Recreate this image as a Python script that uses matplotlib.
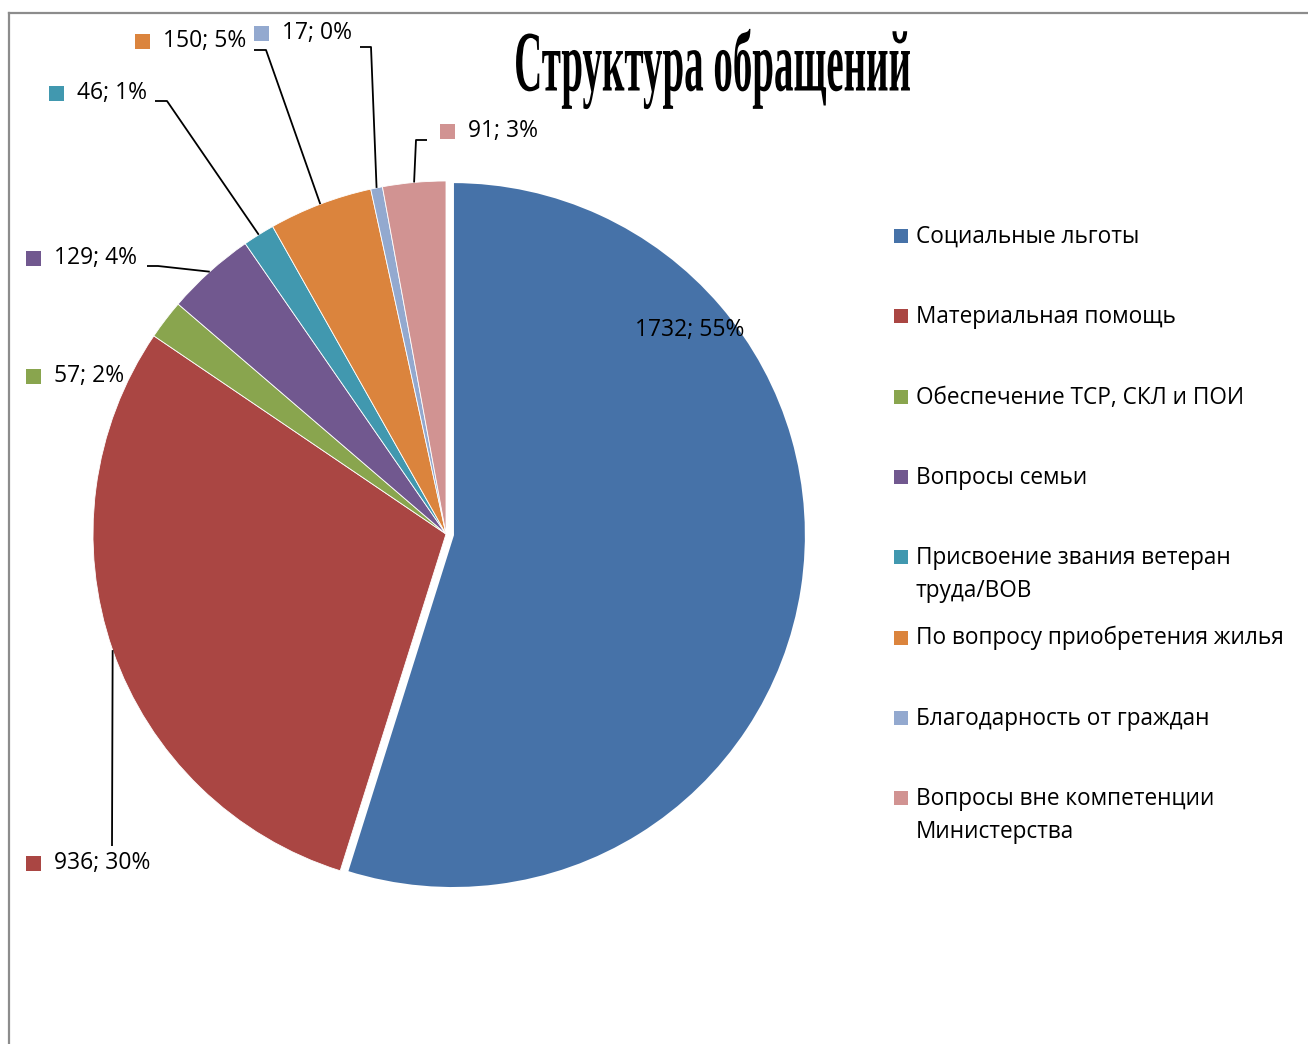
import matplotlib
matplotlib.use("Agg")
import matplotlib.pyplot as plt
from matplotlib.patches import Rectangle
from matplotlib import patheffects
from matplotlib.transforms import Affine2D
from matplotlib.lines import Line2D
import numpy as np

# ---------------- data ----------------
categories = [
    "Социальные льготы",
    "Материальная помощь",
    "Обеспечение ТСР, СКЛ и ПОИ",
    "Вопросы семьи",
    "Присвоение звания ветеран\nтруда/ВОВ",
    "По вопросу приобретения жилья",
    "Благодарность от граждан",
    "Вопросы вне компетенции\nМинистерства",
]
values = [1732, 936, 57, 129, 46, 150, 17, 91]
percent_labels = ["55%", "30%", "2%", "4%", "1%", "5%", "0%", "3%"]
colors = ["#4672A8", "#AA4643", "#89A54E", "#71588F",
          "#4198AF", "#DB843D", "#93A9CF", "#D19392"]
title = "Структура обращений"

# ---------------- layout ----------------
W, H = 1308, 1044
FONT = ["Open Sans", "DejaVu Sans"]
LBL_SIZE = 16.5
LEG_SIZE = 16.3

fig = plt.figure(figsize=(W / 100, H / 100), dpi=100)
ax = fig.add_axes([0, 0, 1, 1])


def Y(p):
    return H - p


CX, CY, R = 446, Y(534), 353
explode = [7, 0, 0, 0, 0, 0, 0, 0]
wedges, _ = ax.pie(values, colors=colors, startangle=90, counterclock=False,
                   center=(CX, CY), radius=R, explode=explode,
                   wedgeprops=dict(edgecolor="white", linewidth=0.6))
wedges[0].set_linewidth(1.5)
ax.set_xlim(0, W)
ax.set_ylim(0, H)
ax.set_aspect("equal")
ax.axis("off")

# frame (top and left visible)
fig.add_artist(Line2D([9 / W, 9 / W], [0, 1 - 13 / H], color="#8C8C8C", lw=1.6))
fig.add_artist(Line2D([9 / W, 1], [1 - 13 / H, 1 - 13 / H], color="#8C8C8C", lw=1.6))

# data label placement: (square left x, centre y, leader start points)
label_layout = [
    (None, (690, 330), None),
    (26, 863, [(112, 846)]),
    (26, 376, None),
    (26, 258, [(147, 266), (158, 266)]),
    (49, 93, [(155, 101), (167, 101)]),
    (135, 41, [(254, 50), (266, 50)]),
    (254, 33, [(360, 47), (371, 47)]),
    (440, 131, [(427, 140), (416, 140)]),
]

for i, (w, v, p) in enumerate(zip(wedges, values, percent_labels)):
    txt = f"{v}; {p}"
    lay = label_layout[i]
    if lay[0] is None:
        x, y = lay[1]
        ax.text(x, Y(y), txt, ha="center", va="center", fontsize=LBL_SIZE,
                family=FONT, color="black")
        continue
    sx, sy, leader = lay
    ax.add_patch(Rectangle((sx, Y(sy) - 7.5), 15, 15, facecolor=colors[i],
                           edgecolor="none"))
    ax.text(sx + 28, Y(sy), txt, ha="left", va="center", fontsize=LBL_SIZE,
            family=FONT, color="black")
    if leader:
        th = np.deg2rad((w.theta1 + w.theta2) / 2)
        ex = w.center[0] + w.r * np.cos(th)
        ey = w.center[1] + w.r * np.sin(th)
        xs = [pt[0] for pt in leader] + [ex]
        ys = [Y(pt[1]) for pt in leader] + [ey]
        ax.plot(xs, ys, color="black", lw=1.3, solid_capstyle="butt")

# legend (manual, fixed spacing)
LINE_GAP = 32.5
for i, cat in enumerate(categories):
    yc = 236 + i * 80.3
    nl = cat.count("\n")
    ax.add_patch(Rectangle((894, Y(yc) - 7), 14, 14, facecolor=colors[i],
                           edgecolor="none"))
    ax.text(916, Y(yc + 7 + nl * LINE_GAP), cat, ha="left", va="baseline",
            fontsize=LEG_SIZE, family=FONT, color="black", linespacing=1.48)


# title: narrow-width text stretched vertically (condensed look)
class Stretch(patheffects.AbstractPathEffect):
    def __init__(self, sx, sy, target):
        super().__init__()
        self.sx, self.sy, self.target = sx, sy, target

    def draw_path(self, renderer, gc, tpath, affine, rgbFace=None):
        bb = tpath.get_extents(affine)
        cx = (bb.x0 + bb.x1) / 2
        cy = (bb.y0 + bb.y1) / 2
        t = (affine + Affine2D().translate(-cx, -cy)
             .scale(self.sx, self.sy).translate(*self.target))
        renderer.draw_path(gc, tpath, t, rgbFace)


TITLE_W = 397        # px, target ink width
TITLE_CENTER = (713, Y(69))
BASE_SIZE = 62
tt = fig.text(TITLE_CENTER[0] / W, TITLE_CENTER[1] / H, title, ha="center",
              va="center", fontsize=BASE_SIZE,
              family=["Liberation Serif", "DejaVu Serif"],
              fontweight="bold", color="black")
fig.canvas.draw()
ext = tt.get_window_extent(fig.canvas.get_renderer())
small = BASE_SIZE * TITLE_W / ext.width
tt.set_fontsize(small)
tt.set_path_effects([Stretch(1.0, BASE_SIZE / small, TITLE_CENTER)])

fig.savefig("out.png", dpi=100)
